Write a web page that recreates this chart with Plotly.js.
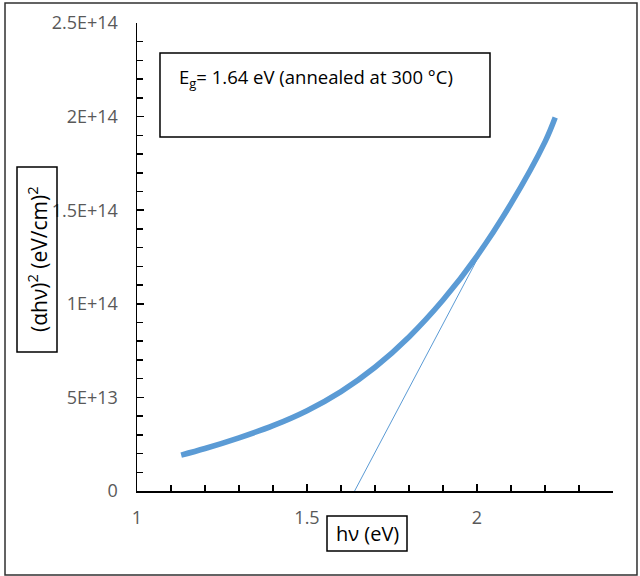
<!DOCTYPE html>
<html>
<head>
<meta charset="utf-8">
<script src="https://cdn.plot.ly/plotly-3.0.1.min.js"></script>
<style>html,body{margin:0;padding:0;background:#fff;}#chart{width:640px;height:576px;}</style>
</head>
<body>
<div id="chart"></div>
<script>
// Data
const photonEnergy = [1.13, 1.2, 1.3, 1.4, 1.5, 1.6, 1.7, 1.8, 1.9, 2.0, 2.1, 2.2, 2.23];
const alphaHvSq = [1.92e13, 2.27e13, 2.84e13, 3.49e13, 4.29e13, 5.31e13, 6.61e13, 8.23e13, 1.02e14, 1.255e14, 1.535e14, 1.865e14, 1.995e14];
const tangentX = [1.64, 2.01];
const tangentY = [0, 1.27e14];
const yTickVals = [0, 5e13, 1e14, 1.5e14, 2e14, 2.5e14];
const yTickText = ["0", "5E+13", "1E+14", "1.5E+14", "2E+14", "2.5E+14"];
const xTickVals = [1, 1.5, 2];
const xTickText = ["1", "1.5", "2"];
const bandGapLabel = "E<sub>g</sub>= 1.64 eV (annealed at 300 °C)";
const xTitle = "hν (eV)";
const yTitle = "(αhν)<sup>2</sup> (eV/cm)<sup>2</sup>";

const blue = "#5B9BD5";
const font = "Open Sans, Liberation Sans, sans-serif";

const traces = [
  {x: photonEnergy, y: alphaHvSq, mode: "lines", line: {color: blue, width: 5.5, shape: "spline", smoothing: 1}, hoverinfo: "skip"},
  {x: tangentX, y: tangentY, mode: "lines", line: {color: blue, width: 1}, hoverinfo: "skip"}
];

const layout = {
  width: 640, height: 576,
  margin: {l: 137, r: 27, t: 23, b: 85},
  paper_bgcolor: "#fff", plot_bgcolor: "#fff",
  showlegend: false,
  font: {family: font, color: "#595959", size: 18},
  xaxis: {
    range: [1, 2.4], tickvals: xTickVals, ticktext: xTickText,
    showgrid: false, zeroline: false,
    showline: true, linecolor: "#000", linewidth: 1.5,
    ticks: "inside", ticklen: 7, tickwidth: 1.5, tickcolor: "#000",
    minor: {dtick: 0.1, ticks: "inside", ticklen: 6, tickwidth: 1.5, tickcolor: "#000", showgrid: false},
    ticklabelstandoff: 10,
    tickfont: {size: 18, color: "#595959", family: font}
  },
  yaxis: {
    range: [0, 2.5e14], tickvals: yTickVals, ticktext: yTickText,
    showgrid: false, zeroline: false,
    showline: true, linecolor: "#000", linewidth: 1.5,
    ticks: "inside", ticklen: 7, tickwidth: 1.5, tickcolor: "#000",
    minor: {dtick: 1e13, ticks: "inside", ticklen: 6, tickwidth: 1.5, tickcolor: "#000", showgrid: false},
    ticklabelstandoff: 14,
    tickfont: {size: 18, color: "#595959", family: font}
  },
  shapes: [
    {type: "rect", xref: "paper", yref: "paper", x0: -0.2773, x1: 1.0504, y0: -0.1795, y1: 1.0427, line: {color: "#303030", width: 1.5}},
    {type: "rect", xref: "paper", yref: "paper", x0: 0.0483, x1: 0.7416, y0: 0.7564, y1: 0.9359, line: {color: "#000", width: 1.5}, fillcolor: "rgba(0,0,0,0)"},
    {type: "rect", xref: "paper", yref: "paper", x0: (17-137)/476, x1: (57-137)/476, y0: (491-352)/468, y1: (491-167)/468, line: {color: "#000", width: 1.5}},
    {type: "rect", xref: "paper", yref: "paper", x0: (327-137)/476, x1: (407-137)/476, y0: (491-551)/468, y1: (491-516)/468, line: {color: "#000", width: 1.5}}
  ],
  annotations: [
    {xref: "paper", yref: "paper", x: (177-137)/476, y: (491-78)/468, xanchor: "left", yanchor: "middle", text: bandGapLabel, showarrow: false, font: {size: 18.5, color: "#000", family: font}},
    {xref: "paper", yref: "paper", x: (37-137)/476, y: (491-259)/468, xanchor: "center", yanchor: "middle", text: yTitle, textangle: -90, showarrow: false, font: {size: 21, color: "#000", family: font}},
    {xref: "paper", yref: "paper", x: (367-137)/476, y: (491-533)/468, xanchor: "center", yanchor: "middle", text: xTitle, showarrow: false, font: {size: 20, color: "#000", family: font}}
  ]
};

Plotly.newPlot("chart", traces, layout, {displayModeBar: false, staticPlot: true});
</script>
</body>
</html>
